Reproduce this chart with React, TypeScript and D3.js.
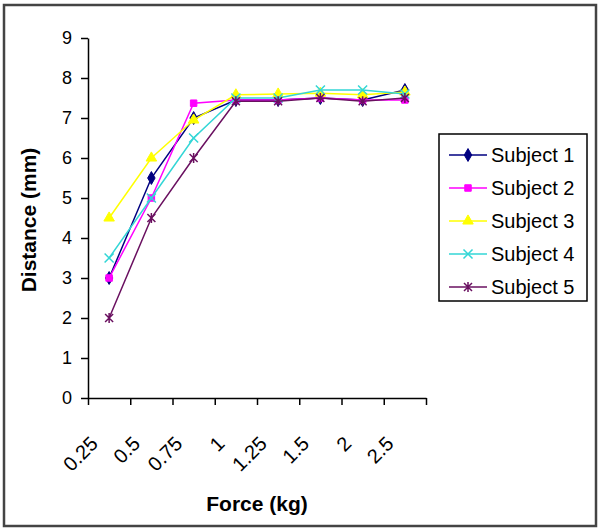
import React, { useEffect, useRef } from 'react';
import * as d3 from 'd3';

const categories = ['0.25', '0.5', '0.75', '1', '1.25', '1.5', '2', '2.5'];
const subject1 = [3, 5.5, 7, 7.45, 7.45, 7.5, 7.45, 7.7];
const subject2 = [3, 5, 7.37, 7.45, 7.45, 7.5, 7.45, 7.45];
const subject3 = [4.5, 6, 6.95, 7.58, 7.6, 7.62, 7.58, 7.65];
const subject4 = [3.5, 5, 6.5, 7.5, 7.5, 7.7, 7.7, 7.6];
const subject5 = [2, 4.5, 6, 7.42, 7.42, 7.5, 7.42, 7.5];
const seriesNames = ['Subject 1', 'Subject 2', 'Subject 3', 'Subject 4', 'Subject 5'];
const yTicks = [0, 1, 2, 3, 4, 5, 6, 7, 8, 9];

const FONT = '"Liberation Sans", Arial, sans-serif';

export default function App() {
  const svgRef = useRef<SVGSVGElement>(null);

  useEffect(() => {
    const series = [subject1, subject2, subject3, subject4, subject5].map((values, i) => ({
      name: seriesNames[i],
      values,
    }));
    const colors = ['#000080', '#ff00ff', '#ffff00', '#33d6d6', '#6a1060'];
    const markers = ['diamond', 'square', 'triangle', 'x', 'star'];

    const svg = d3.select(svgRef.current);
    svg.selectAll('*').remove();

    // outer frame
    svg.append('rect')
      .attr('x', 4).attr('y', 5).attr('width', 592).attr('height', 521)
      .attr('fill', '#fff').attr('stroke', '#444').attr('stroke-width', 2.5);

    const x = d3.scaleBand().domain(categories).range([88, 426]);
    const y = d3.scaleLinear().domain([0, 9]).range([398, 38]);
    const cx = (c: string) => (x(c) as number) + x.bandwidth() / 2;

    // y axis
    const yg = svg.append('g').attr('transform', 'translate(88,0)')
      .call(d3.axisLeft(y).tickValues(yTicks).tickSize(7).tickSizeOuter(0).tickPadding(9).tickFormat(d3.format('d')));
    yg.selectAll('line, path').attr('stroke', '#000').attr('stroke-width', 1.5);
    yg.selectAll('text').attr('font-size', 18).attr('font-family', FONT).attr('fill', '#000');

    // x axis, ticks between categories
    const xb = d3.scaleLinear().domain([0, categories.length]).range([88, 426]);
    const xg = svg.append('g').attr('transform', 'translate(0,398)')
      .call(d3.axisBottom(xb).ticks(categories.length).tickSize(7).tickSizeOuter(0).tickFormat(() => ''));
    xg.selectAll('line, path').attr('stroke', '#000').attr('stroke-width', 1.5);

    svg.append('g').selectAll('text')
      .data(categories)
      .enter()
      .append('text')
      .attr('transform', d => `translate(${cx(d) - 10},445) rotate(-45)`)
      .attr('text-anchor', 'end')
      .attr('font-size', 20)
      .attr('font-family', FONT)
      .text(d => d);

    // axis titles
    svg.append('text')
      .attr('transform', 'translate(36,220) rotate(-90)')
      .attr('text-anchor', 'middle')
      .attr('font-size', 21).attr('font-weight', 'bold').attr('font-family', FONT)
      .text('Distance (mm)');
    svg.append('text')
      .attr('x', 257).attr('y', 511)
      .attr('text-anchor', 'middle')
      .attr('font-size', 21).attr('font-weight', 'bold').attr('font-family', FONT)
      .text('Force (kg)');

    const drawMarker = (g: any, kind: string, color: string, px: number, py: number) => {
      if (kind === 'diamond') {
        g.append('path').attr('d', d3.symbol(d3.symbolDiamond, 48)()).attr('transform', `translate(${px},${py})`)
          .attr('fill', color).attr('stroke', color);
      } else if (kind === 'square') {
        g.append('path').attr('d', d3.symbol(d3.symbolSquare, 42)()).attr('transform', `translate(${px},${py})`)
          .attr('fill', color).attr('stroke', color);
      } else if (kind === 'triangle') {
        g.append('path').attr('d', d3.symbol(d3.symbolTriangle, 48)()).attr('transform', `translate(${px},${py})`)
          .attr('fill', color).attr('stroke', color);
      } else if (kind === 'x') {
        g.append('path').attr('d', d3.symbol(d3.symbolX, 55)()).attr('transform', `translate(${px},${py})`)
          .attr('fill', 'none').attr('stroke', color).attr('stroke-width', 1.5);
      } else {
        const r = 4;
        g.append('path')
          .attr('d', `M${-r},${-r}L${r},${r}M${-r},${r}L${r},${-r}M0,${-r - 1}L0,${r + 1}`)
          .attr('transform', `translate(${px},${py})`)
          .attr('fill', 'none').attr('stroke', color).attr('stroke-width', 1.5);
      }
    };

    const line = d3.line<number>()
      .x((_, i) => cx(categories[i]))
      .y(d => y(d));

    series.forEach((s, si) => {
      const g = svg.append('g');
      g.append('path')
        .attr('d', line(s.values))
        .attr('fill', 'none')
        .attr('stroke', colors[si])
        .attr('stroke-width', 1.5);
      s.values.forEach((v, i) => drawMarker(g, markers[si], colors[si], cx(categories[i]), y(v)));
    });

    // legend
    const lg = svg.append('g');
    lg.append('rect')
      .attr('x', 439).attr('y', 134).attr('width', 148).attr('height', 167)
      .attr('fill', '#fff').attr('stroke', '#000').attr('stroke-width', 1.5);
    series.forEach((s, si) => {
      const ly = 155 + si * 33;
      lg.append('line')
        .attr('x1', 449).attr('x2', 487).attr('y1', ly).attr('y2', ly)
        .attr('stroke', colors[si]).attr('stroke-width', 1.5);
      drawMarker(lg, markers[si], colors[si], 468, ly);
      lg.append('text')
        .attr('x', 491).attr('y', ly + 7)
        .attr('font-size', 20).attr('font-family', FONT)
        .text(s.name);
    });
  }, []);

  return (
    <svg
      ref={svgRef}
      width={600}
      height={530}
      style={{ position: 'absolute', left: 0, top: 0, background: '#fff' }}
    />
  );
}
